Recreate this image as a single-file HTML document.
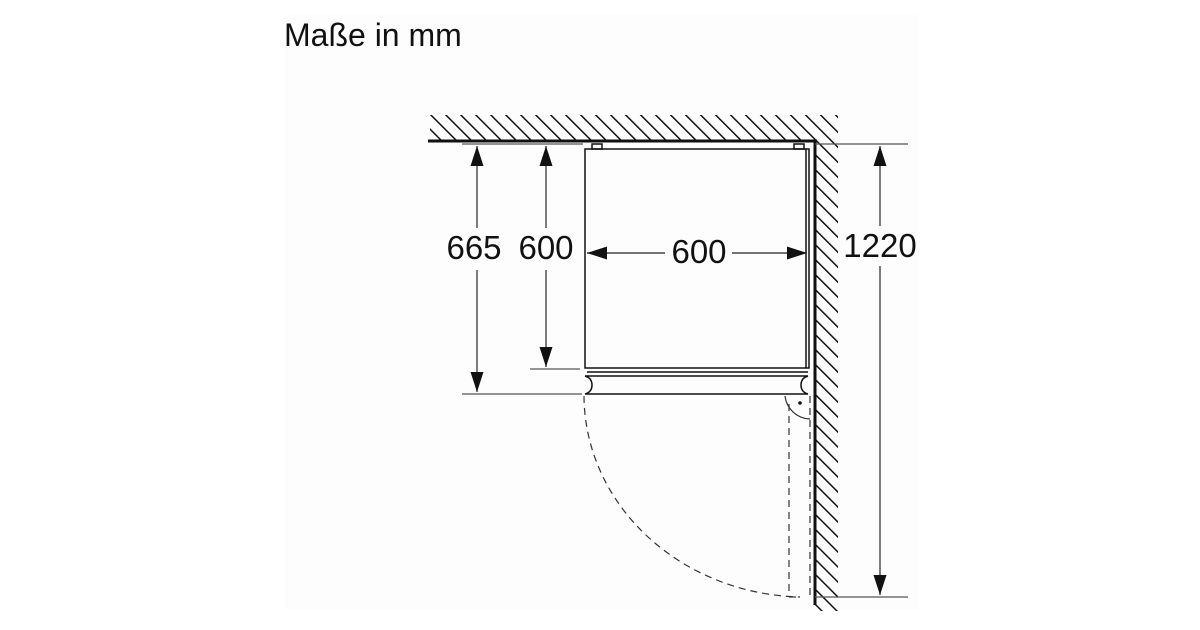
<!DOCTYPE html>
<html><head><meta charset="utf-8"><style>
body{margin:0;background:#fff;width:1200px;height:630px;overflow:hidden}
svg{display:block}
text{font-family:"Liberation Sans",sans-serif;fill:#111}
</style></head><body>
<svg width="1200" height="630" viewBox="0 0 1200 630">
<defs>
<pattern id="h" width="10.6" height="10.6" patternUnits="userSpaceOnUse" patternTransform="rotate(-45)">
<line x1="0" y1="0" x2="0" y2="10.6" stroke="#111" stroke-width="3"/>
</pattern>
<marker id="a" viewBox="0 0 10 10" refX="10" refY="5" markerWidth="20" markerHeight="13" markerUnits="userSpaceOnUse" orient="auto-start-reverse" preserveAspectRatio="none">
<path d="M0,0 L10,5 L0,10 z" fill="#111"/></marker>
</defs>
<rect x="285" y="15" width="633" height="595" fill="#fdfdfd"/>
<text x="284" y="46" font-size="32">Maße in mm</text>
<!-- walls -->
<rect x="430" y="115" width="408" height="26" fill="url(#h)"/>
<rect x="815" y="141" width="23" height="470" fill="url(#h)"/>
<line x1="428" y1="141" x2="817" y2="141" stroke="#111" stroke-width="3"/>
<line x1="815" y1="140" x2="815" y2="605" stroke="#111" stroke-width="3"/>
<!-- extension lines -->
<g stroke="#555" stroke-width="1.2">
<line x1="462" y1="144" x2="583" y2="144"/>
<line x1="815" y1="144" x2="908" y2="144"/>
<line x1="530" y1="369" x2="580" y2="369"/>
<line x1="462" y1="394" x2="582" y2="394"/>
<line x1="815" y1="597" x2="908" y2="597"/>
</g>
<!-- fridge -->
<g fill="none" stroke="#111" stroke-width="1.5">
<rect x="592" y="144" width="10" height="5"/>
<rect x="794" y="144" width="10" height="5"/>
<rect x="585" y="149" width="224" height="219"/>
<line x1="806" y1="149" x2="806" y2="368"/>
<line x1="587" y1="372" x2="808" y2="372"/>
<line x1="585" y1="376" x2="808" y2="376"/>
<path d="M585,376 Q592,378 592,385 Q592,392 585,394 L808,394 Q801,392 801,385 Q801,378 808,376"/>
</g>
<!-- door swing -->
<g fill="none" stroke="#333" stroke-width="1.2" stroke-dasharray="7,5">
<path d="M584,396 A222,202 0 0 0 800,597"/>
<line x1="789" y1="404" x2="789" y2="597"/>
<line x1="810" y1="396" x2="810" y2="597"/>
<line x1="789" y1="597" x2="800" y2="597"/>
</g>
<path d="M785,396 A26,26 0 0 0 810,419" fill="none" stroke="#333" stroke-width="1.2"/>
<circle cx="800" cy="403" r="1.8" fill="#111"/>
<!-- dims -->
<g stroke="#444" stroke-width="1.4">
<line x1="477" y1="146" x2="477" y2="228" marker-start="url(#a)"/>
<line x1="477" y1="270" x2="477" y2="392" marker-end="url(#a)"/>
<line x1="546" y1="146" x2="546" y2="228" marker-start="url(#a)"/>
<line x1="546" y1="270" x2="546" y2="367" marker-end="url(#a)"/>
<line x1="587" y1="253" x2="665" y2="253" marker-start="url(#a)"/>
<line x1="732" y1="253" x2="807" y2="253" marker-end="url(#a)"/>
<line x1="880" y1="146" x2="880" y2="226" marker-start="url(#a)"/>
<line x1="880" y1="266" x2="880" y2="595" marker-end="url(#a)"/>
</g>
<g font-size="33" text-anchor="middle">
<text x="474" y="259">665</text>
<text x="546" y="259">600</text>
<text x="699" y="263">600</text>
<text x="880" y="257">1220</text>
</g>
</svg>
</body></html>
